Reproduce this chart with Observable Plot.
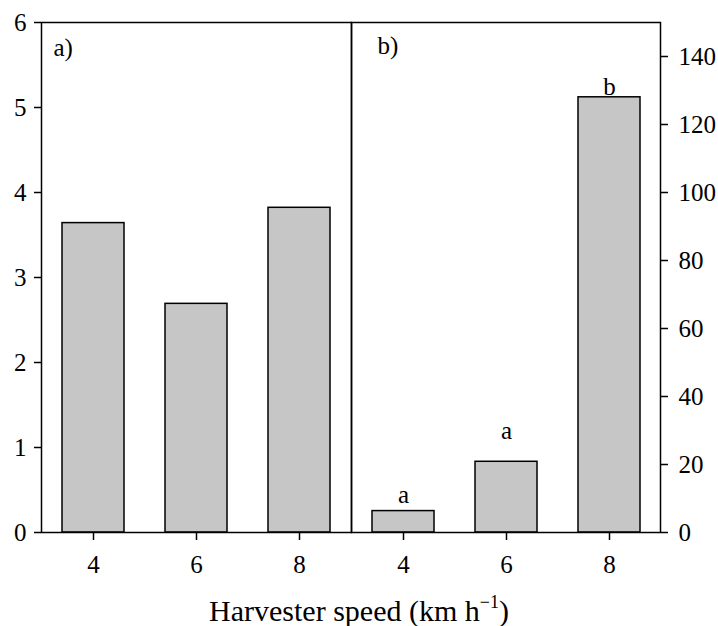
<!DOCTYPE html>
<html>
<head>
<meta charset="utf-8">
<script src="https://cdn.jsdelivr.net/npm/d3@7"></script>
<script src="https://cdn.jsdelivr.net/npm/@observablehq/plot@0.6"></script>
<style>
  body { margin: 0; background: #fff; }
  #wrap { position: relative; width: 718px; height: 626px; font-family: "Liberation Serif", "DejaVu Serif", serif; color: #000; }
  #left, #right { position: absolute; top: 0; }
  #left { left: 0; }
  #right { left: 340px; }
  #title { position: absolute; left: 0; width: 718px; top: 596px; text-align: center; font-size: 30px; line-height: 1; }
  #title sup { font-size: 0.6em; vertical-align: 0.7em; line-height: 0; }
  svg text { font-family: "Liberation Serif", "DejaVu Serif", serif; }
</style>
</head>
<body>
<div id="wrap">
  <div id="left"></div>
  <div id="right"></div>
  <div id="title">Harvester speed (km h<sup>−1</sup>)</div>
</div>
<script>
// Data
const speeds = ["4", "6", "8"];
const valuesA = [3.64, 2.69, 3.82];
const valuesB = [6.3, 20.8, 128];
const lettersB = ["a", "a", "b"];
const letterPosB = [8.8, 27.6, 128.6];
const yTicksA = [0, 1, 2, 3, 4, 5, 6];
const yTicksB = [0, 20, 40, 60, 80, 100, 120, 140];
const panelLabels = ["a)", "b)"];

const dataA = speeds.map((s, i) => ({speed: s, value: valuesA[i]}));
const dataB = speeds.map((s, i) => ({speed: s, value: valuesB[i], letter: lettersB[i], pos: letterPosB[i]}));

const font = "Liberation Serif";
const barFill = "#c6c6c6";
const fmt = d => String(d);
const fs = 25;

const left = Plot.plot({
  width: 360, height: 580,
  marginLeft: 41, marginRight: 9, marginTop: 22, marginBottom: 48,
  style: {fontFamily: font, fontSize: fs + "px", background: "transparent", color: "#000", overflow: "visible"},
  x: {domain: speeds, paddingInner: 0.4, paddingOuter: 0.2, label: null},
  y: {domain: [0, 6], label: null},
  marks: [
    Plot.barY(dataA, {x: "speed", y: "value", fill: barFill, stroke: "#000", strokeWidth: 1.5}),
    Plot.frame({stroke: "#000", strokeWidth: 1.5}),
    Plot.axisY({ticks: yTicksA, tickFormat: fmt, tickSize: 7, tickPadding: 8, strokeWidth: 1.5, label: null, fontSize: fs, fontFamily: font}),
    Plot.axisX({tickSize: 8, tickPadding: 15, strokeWidth: 1.5, label: null, fontSize: fs, fontFamily: font}),
    Plot.text([panelLabels[0]], {frameAnchor: "top-left", dx: 12, dy: 16, fontSize: fs, fontFamily: font, fill: "#000"})
  ]
});
document.getElementById("left").appendChild(left);

const right = Plot.plot({
  width: 378, height: 580,
  marginLeft: 11, marginRight: 58, marginTop: 22, marginBottom: 48,
  style: {fontFamily: font, fontSize: fs + "px", background: "transparent", color: "#000", overflow: "visible"},
  x: {domain: speeds, paddingInner: 0.4, paddingOuter: 0.2, label: null},
  y: {domain: [0, 150], label: null},
  marks: [
    Plot.barY(dataB, {x: "speed", y: "value", fill: barFill, stroke: "#000", strokeWidth: 1.5}),
    Plot.frame({stroke: "#000", strokeWidth: 1.5}),
    Plot.axisY({anchor: "right", ticks: yTicksB, tickFormat: fmt, tickSize: 7, tickPadding: 11, strokeWidth: 1.5, label: null, fontSize: fs, fontFamily: font}),
    Plot.axisX({tickSize: 8, tickPadding: 15, strokeWidth: 1.5, label: null, fontSize: fs, fontFamily: font}),
    Plot.text(dataB, {x: "speed", y: "pos", text: "letter", lineAnchor: "bottom", fontSize: fs, fontFamily: font, fill: "#000"}),
    Plot.text([panelLabels[1]], {frameAnchor: "top-left", dx: 26, dy: 14, fontSize: fs, fontFamily: font, fill: "#000"})
  ]
});
document.getElementById("right").appendChild(right);
</script>
</body>
</html>
